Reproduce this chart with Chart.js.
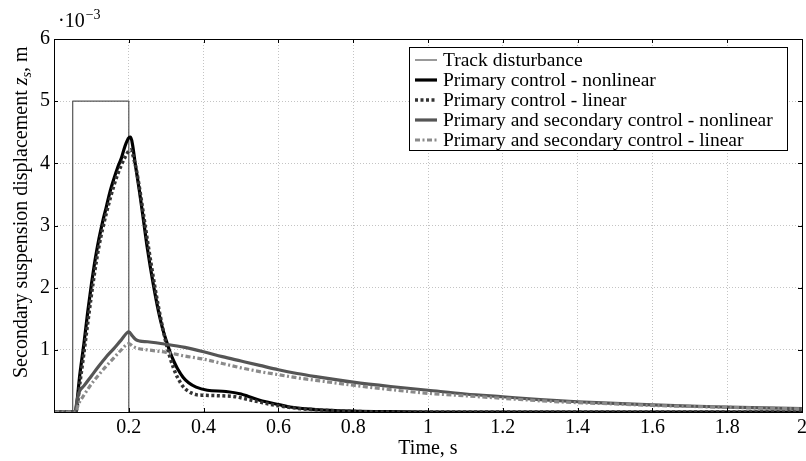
<!DOCTYPE html>
<html>
<head>
<meta charset="utf-8">
<script src="https://cdn.jsdelivr.net/npm/chart.js@4.4.1/dist/chart.umd.min.js"></script>
<style>
  html, body { margin: 0; padding: 0; background: #fff; }
</style>
</head>
<body>
<canvas id="myChart" width="806" height="461"></canvas>
<script>
// tick labels
const xTicks = [0.2, 0.4, 0.6, 0.8, 1, 1.2, 1.4, 1.6, 1.8, 2];
const yTicks = [1, 2, 3, 4, 5, 6];

// Track disturbance (x1e-3 m)
const tTrack = [0, 0.05, 0.05, 0.2, 0.2, 2];
const zTrack = [0, 0, 5, 5, 0, 0];

// Primary control - nonlinear
const tPrimNl = [0, 0.056, 0.07, 0.08, 0.09, 0.1, 0.11, 0.12, 0.13, 0.14, 0.15, 0.16, 0.17, 0.18, 0.19, 0.2, 0.205, 0.21, 0.217, 0.228, 0.238, 0.25, 0.265, 0.28, 0.29, 0.3, 0.31, 0.32, 0.33, 0.345, 0.36, 0.38, 0.41, 0.46, 0.5, 0.52, 0.55, 0.57, 0.6, 0.63, 0.7, 0.8, 0.9, 1.0, 2.0];
const zPrimNl = [0, 0, 0.65, 1.1, 1.6, 2.05, 2.45, 2.78, 3.06, 3.3, 3.55, 3.75, 3.93, 4.08, 4.28, 4.41, 4.42, 4.3, 4.0, 3.57, 3.14, 2.62, 2.07, 1.6, 1.35, 1.15, 0.97, 0.82, 0.7, 0.56, 0.47, 0.4, 0.35, 0.33, 0.29, 0.25, 0.19, 0.16, 0.12, 0.08, 0.04, 0.015, 0.005, 0, 0];

// Primary control - linear
const tPrimLin = [0, 0.058, 0.07, 0.08, 0.09, 0.1, 0.11, 0.12, 0.13, 0.14, 0.15, 0.16, 0.17, 0.18, 0.19, 0.2, 0.205, 0.21, 0.22, 0.23, 0.24, 0.25, 0.26, 0.27, 0.28, 0.29, 0.3, 0.31, 0.32, 0.33, 0.345, 0.36, 0.38, 0.4, 0.45, 0.48, 0.52, 0.55, 0.6, 0.65, 0.7, 0.8, 0.9, 2.0];
const zPrimLin = [0, 0, 0.5, 0.95, 1.42, 1.88, 2.3, 2.66, 2.95, 3.2, 3.43, 3.64, 3.82, 3.97, 4.1, 4.2, 4.22, 4.15, 3.9, 3.55, 3.15, 2.75, 2.37, 2.0, 1.67, 1.37, 1.1, 0.88, 0.7, 0.56, 0.41, 0.33, 0.28, 0.27, 0.26, 0.25, 0.2, 0.16, 0.1, 0.06, 0.035, 0.01, 0, 0];

// Primary and secondary control - nonlinear
const tSecNl = [0, 0.056, 0.062, 0.068, 0.08, 0.1, 0.12, 0.14, 0.16, 0.18, 0.2, 0.21, 0.22, 0.23, 0.25, 0.3, 0.35, 0.4, 0.45, 0.5, 0.55, 0.6, 0.65, 0.7, 0.8, 0.9, 1.0, 1.1, 1.2, 1.3, 1.4, 1.5, 1.6, 1.7, 1.8, 1.9, 2.0];
const zSecNl = [0, 0, 0.2, 0.33, 0.42, 0.58, 0.74, 0.89, 1.02, 1.16, 1.29, 1.22, 1.16, 1.14, 1.13, 1.09, 1.04, 0.97, 0.89, 0.82, 0.75, 0.68, 0.62, 0.57, 0.48, 0.41, 0.35, 0.29, 0.245, 0.2, 0.165, 0.14, 0.115, 0.095, 0.08, 0.065, 0.055];

// Primary and secondary control - linear
const tSecLin = [0, 0.058, 0.065, 0.08, 0.1, 0.12, 0.14, 0.16, 0.18, 0.2, 0.21, 0.22, 0.25, 0.3, 0.35, 0.4, 0.45, 0.5, 0.55, 0.6, 0.65, 0.7, 0.8, 0.9, 1.0, 1.1, 1.2, 1.3, 1.4, 1.5, 1.6, 1.7, 1.8, 1.9, 2.0];
const zSecLin = [0, 0, 0.12, 0.27, 0.45, 0.6, 0.74, 0.87, 1.0, 1.1, 1.06, 1.03, 1.0, 0.96, 0.9, 0.85, 0.78, 0.71, 0.65, 0.6, 0.55, 0.51, 0.43, 0.36, 0.3, 0.26, 0.22, 0.18, 0.15, 0.13, 0.105, 0.09, 0.075, 0.06, 0.05];

const serif = "'Liberation Serif', 'DejaVu Serif', serif";

function pts(t, z) {
    return t.map((v, i) => ({ x: v, y: z[i] }));
}

const frame = {
    id: "frame",
    afterDatasetsDraw(chart) {
        const ctx = chart.ctx;
        const a = chart.chartArea;
        const xs = chart.scales.x, ys = chart.scales.y;
        ctx.save();
        ctx.strokeStyle = "#000";
        ctx.lineWidth = 1;
        ctx.setLineDash([]);
        ctx.beginPath();
        xTicks.forEach(v => {
            const p = Math.round(xs.getPixelForValue(v)) + 0.5;
            ctx.moveTo(p, a.bottom); ctx.lineTo(p, a.bottom - 4);
            ctx.moveTo(p, a.top); ctx.lineTo(p, a.top + 4);
        });
        yTicks.forEach(v => {
            const p = Math.round(ys.getPixelForValue(v)) + 0.5;
            ctx.moveTo(a.left, p); ctx.lineTo(a.left + 4, p);
            ctx.moveTo(a.right, p); ctx.lineTo(a.right - 4, p);
        });
        ctx.stroke();
        ctx.strokeRect(Math.round(a.left) + 0.5, Math.round(a.top) + 0.5,
            Math.round(a.right - a.left), Math.round(a.bottom - a.top));
        ctx.restore();
    },
    afterDraw(chart) {
        const ctx = chart.ctx;
        ctx.save();
        ctx.fillStyle = "#000";

        // exponent
        ctx.font = "20px " + serif;
        ctx.textBaseline = "alphabetic";
        ctx.textAlign = "left";
        ctx.fillText("\u00b710", 58, 27);
        const w = ctx.measureText("\u00b710").width;
        ctx.font = "14px " + serif;
        ctx.fillText("\u22123", 58 + w + 1, 19);

        // x title
        ctx.font = "20px " + serif;
        ctx.textAlign = "center";
        ctx.fillText("Time, s", 428, 454);

        // y title
        ctx.save();
        ctx.translate(27, 378);
        ctx.rotate(-Math.PI / 2);
        ctx.textAlign = "left";
        let x = 0;
        const parts = [
            ["Secondary suspension displacement ", "20px " + serif, 0],
            ["z", "italic 20px " + serif, 0],
            ["s", "italic 14px " + serif, 4],
            [", m", "20px " + serif, 0]
        ];
        parts.forEach(p => {
            ctx.font = p[1];
            ctx.fillText(p[0], x, p[2]);
            x += ctx.measureText(p[0]).width;
        });
        ctx.restore();

        // legend
        const bx = 409, by = 47, bw = 378, bh = 103;
        ctx.fillStyle = "#fff";
        ctx.fillRect(bx, by, bw, bh);
        ctx.strokeStyle = "#000";
        ctx.lineWidth = 1;
        ctx.setLineDash([]);
        ctx.strokeRect(bx + 0.5, by + 0.5, bw, bh);
        ctx.font = "19.5px " + serif;
        ctx.textAlign = "left";
        ctx.textBaseline = "middle";
        chart.data.datasets.forEach((ds, i) => {
            const y = 60 + i * 20;
            ctx.strokeStyle = ds.borderColor;
            ctx.lineWidth = ds.borderWidth;
            ctx.setLineDash(ds.borderDash || []);
            ctx.beginPath();
            ctx.moveTo(415, y);
            ctx.lineTo(437, y);
            ctx.stroke();
            ctx.fillStyle = "#000";
            ctx.fillText(ds.label, 443, y + 1);
        });
        ctx.restore();
    }
};

const ctx = document.getElementById("myChart");
const myChart = new Chart(ctx, {
    type: "line",
    data: {
        datasets: [{
            label: "Track disturbance",
            data: pts(tTrack, zTrack),
            borderColor: "#555555",
            borderWidth: 1.2,
            tension: 0,
            order: 5
        }, {
            label: "Primary control - nonlinear",
            data: pts(tPrimNl, zPrimNl),
            borderColor: "#000000",
            borderWidth: 3.2,
            cubicInterpolationMode: "monotone",
            order: 4
        }, {
            label: "Primary control - linear",
            data: pts(tPrimLin, zPrimLin),
            borderColor: "#333333",
            borderWidth: 3.5,
            borderDash: [3, 2.5],
            cubicInterpolationMode: "monotone",
            order: 3
        }, {
            label: "Primary and secondary control - nonlinear",
            data: pts(tSecNl, zSecNl),
            borderColor: "#555555",
            borderWidth: 3.2,
            cubicInterpolationMode: "monotone",
            order: 2
        }, {
            label: "Primary and secondary control - linear",
            data: pts(tSecLin, zSecLin),
            borderColor: "#8a8a8a",
            borderWidth: 3.2,
            borderDash: [5, 2.5, 2, 2.5],
            cubicInterpolationMode: "monotone",
            order: 1
        }]
    },
    options: {
        responsive: false,
        animation: false,
        events: [],
        layout: { padding: { left: 0, right: 4, top: 39, bottom: 0 } },
        elements: { point: { radius: 0 }, line: { borderCapStyle: "butt", borderJoinStyle: "round" } },
        plugins: { legend: { display: false }, tooltip: { enabled: false } },
        scales: {
            x: {
                type: "linear",
                min: 0,
                max: 2,
                afterBuildTicks: axis => { axis.ticks = xTicks.map(v => ({ value: v })); },
                afterFit: axis => { axis.height = 49; axis.paddingLeft = 0; axis.paddingRight = 0; },
                ticks: {
                    autoSkip: false,
                    maxRotation: 0,
                    padding: 4,
                    color: "#000",
                    font: { family: serif, size: 20 },
                    callback: v => String(Number(v.toFixed(1)))
                },
                grid: { color: "#c4c4c4", drawTicks: false, tickLength: 0 },
                border: { display: false, dash: [1, 2] }
            },
            y: {
                min: 0,
                max: 6,
                afterBuildTicks: axis => { axis.ticks = yTicks.map(v => ({ value: v })); },
                afterFit: axis => { axis.width = 54; axis.paddingTop = 0; axis.paddingBottom = 0; },
                ticks: {
                    padding: 4,
                    color: "#000",
                    font: { family: serif, size: 20 },
                    callback: v => String(v)
                },
                grid: { color: "#c4c4c4", drawTicks: false, tickLength: 0 },
                border: { display: false, dash: [1, 2] }
            }
        }
    },
    plugins: [frame]
});
</script>
</body>
</html>
